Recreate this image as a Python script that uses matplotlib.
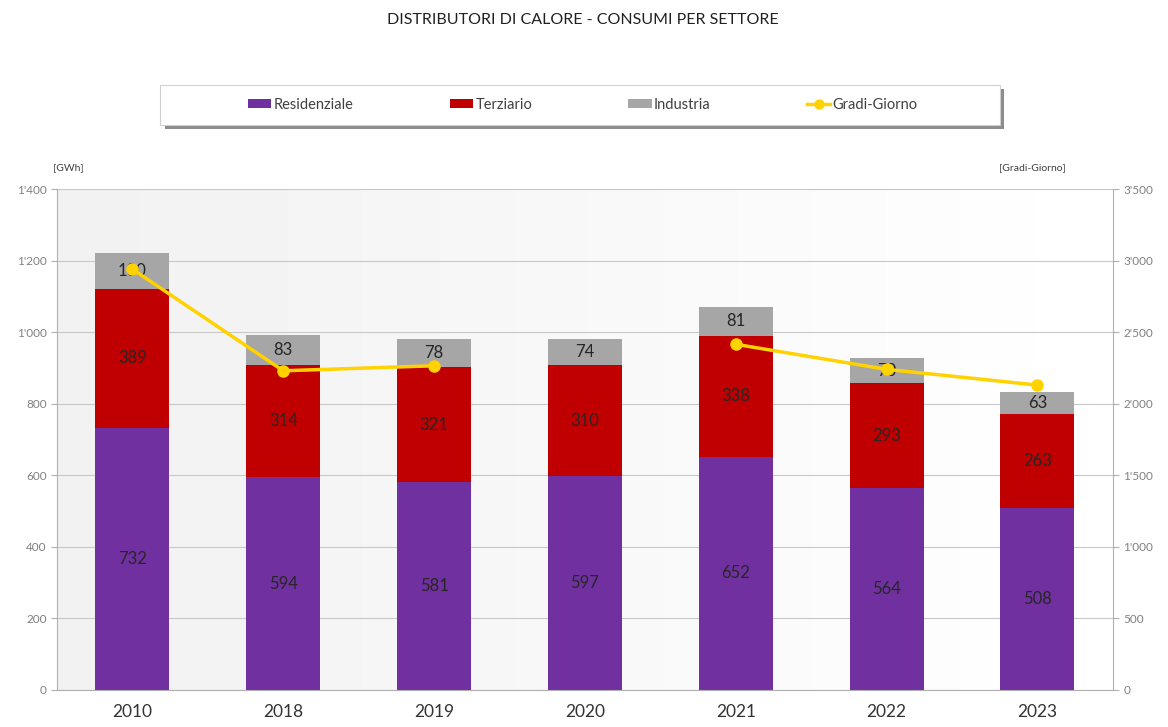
import matplotlib
matplotlib.use("Agg")
import matplotlib.pyplot as plt
import numpy as np
from matplotlib.patches import Rectangle
from matplotlib.ticker import FuncFormatter

YEARS = ["2010", "2018", "2019", "2020", "2021", "2022", "2023"]
RESIDENZIALE = [732, 594, 581, 597, 652, 564, 508]
TERZIARIO = [389, 314, 321, 310, 338, 293, 263]
INDUSTRIA = [100, 83, 78, 74, 81, 70, 63]
GRADI_GIORNO = [2940, 2230, 2265, np.nan, 2415, 2240, 2130]

PURPLE = "#7030a0"
RED = "#c00000"
GREY = "#a6a6a6"
YELLOW = "#ffd200"

plt.rcParams["font.family"] = ["Lato", "DejaVu Sans"]


def thousands(v, _pos):
    return f"{int(v):,}".replace(",", "'")


fig = plt.figure(figsize=(11.68, 7.27), dpi=100)
ax = fig.add_axes([0.0488, 0.051, 0.904, 0.689])

# light gradient background like the excel plot area
grad = np.linspace(0.945, 1.0, 256).reshape(1, -1)
grad = np.vstack([grad, grad])
ax.imshow(grad, cmap="gray", vmin=0, vmax=1, aspect="auto",
          extent=[-0.5, 6.5, 0, 1400], zorder=0)

x = np.arange(len(YEARS))
w = 0.49
res = np.array(RESIDENZIALE)
ter = np.array(TERZIARIO)
ind = np.array(INDUSTRIA)

b1 = ax.bar(x, res, w, color=PURPLE, label="Residenziale", zorder=2)
b2 = ax.bar(x, ter, w, bottom=res, color=RED, label="Terziario", zorder=2)
b3 = ax.bar(x, ind, w, bottom=res + ter, color=GREY, label="Industria", zorder=2)

for vals, base in [(res, np.zeros_like(res)), (ter, res), (ind, res + ter)]:
    for i, v in enumerate(vals):
        ax.text(x[i], base[i] + v / 2, str(v), ha="center", va="center",
                fontsize=12, color="#262626", zorder=5)

ax.set_xlim(-0.5, 6.5)
ax.set_ylim(0, 1400)
ax.set_yticks(range(0, 1401, 200))
ax.yaxis.set_major_formatter(FuncFormatter(thousands))
ax.set_xticks(x)
ax.set_xticklabels(YEARS, fontsize=12.5, color="#333333")
ax.tick_params(axis="x", length=0, pad=10)
ax.tick_params(axis="y", labelsize=8.5, colors="#808080", length=4, color="#b0b0b0")
ax.grid(axis="y", color="#c8c8c8", linewidth=0.8, zorder=1)
ax.set_axisbelow(True)
for side in ["top", "right"]:
    ax.spines[side].set_visible(False)
for side in ["left", "bottom"]:
    ax.spines[side].set_color("#b0b0b0")

ax2 = ax.twinx()
gg = np.array(GRADI_GIORNO, dtype=float)
line, = ax2.plot(x, gg, color=YELLOW, linewidth=2.5, marker="o",
                 markersize=8, label="Gradi-Giorno", zorder=6)
ax2.set_ylim(0, 3500)
ax2.set_yticks(range(0, 3501, 500))
ax2.yaxis.set_major_formatter(FuncFormatter(thousands))
ax2.tick_params(axis="y", labelsize=8.5, colors="#808080", length=4, color="#b0b0b0")
for side in ["top", "left", "bottom"]:
    ax2.spines[side].set_visible(False)
ax2.spines["right"].set_color("#b0b0b0")

fig.text(0.045, 0.766, "[GWh]", fontsize=7.5, color="#404040")
fig.text(0.855, 0.766, "[Gradi-Giorno]", fontsize=7.5, color="#404040")

fig.text(0.499, 0.972, "DISTRIBUTORI DI CALORE - CONSUMI PER SETTORE",
         ha="center", va="center", fontsize=11.5, color="#202020")

# legend box with drop shadow, drawn by hand so it can be wider than the entries
fig.patches.append(Rectangle((0.141, 0.822), 0.719, 0.055, transform=fig.transFigure,
                             facecolor="#8c8c8c", edgecolor="none", zorder=0))
fig.patches.append(Rectangle((0.137, 0.828), 0.719, 0.055, transform=fig.transFigure,
                             facecolor="white", edgecolor="#d0d0d0", linewidth=0.8,
                             zorder=1))

leg = fig.legend(handles=[b1, b2, b3, line], loc="center",
                 bbox_to_anchor=(0.499, 0.856), ncol=4, frameon=False,
                 fontsize=10.5, columnspacing=6.6, handlelength=1.6,
                 handleheight=0.6, handletextpad=0.15, markerscale=0.8)
for t in leg.get_texts():
    t.set_color("#404040")

fig.savefig("out.png", dpi=100)
